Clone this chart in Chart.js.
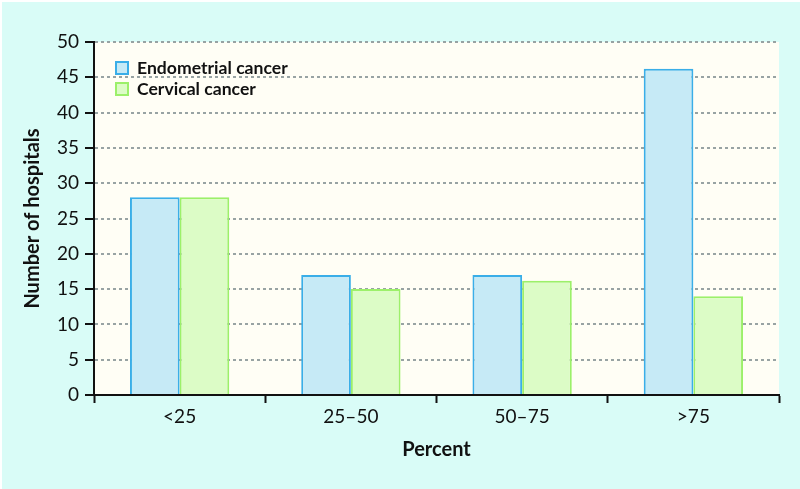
<!DOCTYPE html>
<html>
<head>
<meta charset="utf-8">
<script src="https://cdn.jsdelivr.net/npm/chart.js@4/dist/chart.umd.min.js"></script>
<style>
  html, body { margin: 0; padding: 0; background: #ffffff; }
  #wrap { width: 800px; height: 489px; position: relative; }
</style>
</head>
<body>
<div id="wrap"><canvas id="c" width="800" height="489"></canvas></div>
<script>
const categories = ['<25', '25–50', '50–75', '>75'];
const endometrial = [28, 17, 17, 46.2];
const cervical = [28, 15, 16.2, 14];
const seriesNames = ['Endometrial cancer', 'Cervical cancer'];
const xTitle = 'Percent';
const yTitle = 'Number of hospitals';

const FONT = 'Lato, "Open Sans", sans-serif';

const bgPlugin = {
  id: 'bg',
  beforeDraw(chart) {
    const ctx = chart.ctx, a = chart.chartArea;
    ctx.save();
    ctx.fillStyle = '#ffffff';
    ctx.fillRect(0, 0, chart.width, chart.height);
    ctx.fillStyle = '#d9fcf7';
    ctx.fillRect(2, 2, chart.width - 2, chart.height - 2);
    ctx.fillStyle = '#fffef5';
    ctx.fillRect(a.left, a.top, a.right - a.left, a.bottom - a.top);
    ctx.restore();
  }
};

const legendPlugin = {
  id: 'innerLegend',
  afterDraw(chart) {
    const ctx = chart.ctx, a = chart.chartArea;
    ctx.save();
    ctx.font = 'bold 17.6px ' + FONT;
    ctx.textBaseline = 'middle';
    ctx.textAlign = 'left';
    chart.data.datasets.forEach((ds, i) => {
      const bx = a.left + 22, by = a.top + 20 + i * 21;
      ctx.fillStyle = ds.backgroundColor;
      ctx.fillRect(bx, by, 12, 12);
      ctx.strokeStyle = ds.borderColor;
      ctx.lineWidth = 2;
      ctx.strokeRect(bx, by, 12, 12);
      ctx.fillStyle = '#111111';
      ctx.fillText(ds.label, bx + 21, by + 6.5);
    });
    ctx.restore();
  }
};

new Chart(document.getElementById('c'), {
  type: 'bar',
  data: {
    labels: categories,
    datasets: [
      { label: seriesNames[0], data: endometrial, backgroundColor: '#c6eaf6', borderColor: '#3aaee8', borderWidth: 2 },
      { label: seriesNames[1], data: cervical, backgroundColor: '#dcfcc6', borderColor: '#9cf06a', borderWidth: 2 }
    ]
  },
  options: {
    responsive: false,
    animation: false,
    devicePixelRatio: 1,
    layout: { padding: { top: 42, right: 21, bottom: 0, left: 0 } },
    datasets: { bar: { barPercentage: 1.0, categoryPercentage: 0.58 } },
    plugins: { legend: { display: false }, tooltip: { enabled: false } },
    scales: {
      x: {
        offset: true,
        grid: { display: true, drawOnChartArea: false, drawTicks: true, tickLength: 8, tickColor: '#111111', tickWidth: 2, offset: true, tickBorderDash: [] },
        border: { display: true, color: '#111111', width: 2 },
        ticks: { color: '#111111', font: { family: FONT, size: 19 }, padding: 2, maxRotation: 0 },
        title: { display: true, text: xTitle, color: '#111111', font: { family: FONT, size: 20, weight: 'bold' }, padding: { top: 0, bottom: 27 } },
        afterFit(scale) { scale.height = 94; }
      },
      y: {
        min: 0, max: 50,
        grid: { color: '#98a3a3', lineWidth: 2, drawTicks: true, tickLength: 9, tickColor: '#111111', tickWidth: 2, tickBorderDash: [] },
        border: { display: true, color: '#111111', width: 2, dash: [3, 3] },
        ticks: { stepSize: 5, color: '#111111', font: { family: FONT, size: 19 }, padding: 6 },
        title: { display: true, text: yTitle, color: '#111111', font: { family: FONT, size: 20, weight: 'bold' }, padding: { top: 21, bottom: 0 } },
        afterFit(scale) { scale.width = 94; }
      }
    }
  },
  plugins: [bgPlugin, legendPlugin]
});
</script>
</body>
</html>
